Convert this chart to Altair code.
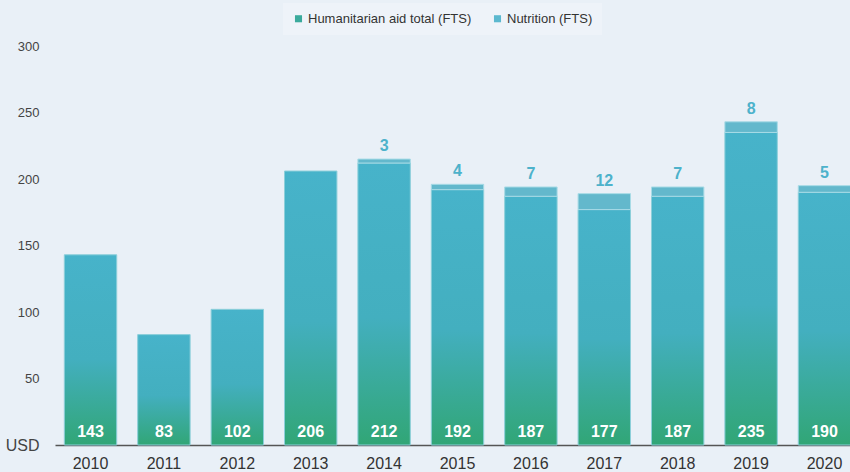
import altair as alt
import pandas as pd

years = ["2010", "2011", "2012", "2013", "2014", "2015", "2016", "2017", "2018", "2019", "2020"]
humanitarian = [143, 83, 102, 206, 212, 192, 187, 177, 187, 235, 190]
nutrition = [None, None, None, None, 3, 4, 7, 12, 7, 8, 5]
series = ["Humanitarian aid total (FTS)", "Nutrition (FTS)"]
y_ticks = [0, 50, 100, 150, 200, 250, 300]

df = pd.DataFrame({"year": years, "hum": humanitarian, "nut": nutrition})
df["top"] = df["hum"] + df["nut"]
nut_df = df.dropna(subset=["nut"]).copy()
nut_df["nut"] = nut_df["nut"].astype(int)
leg_df = pd.DataFrame({"series": series, "year": [years[0], years[0]], "v": [0, 0]})

FONT = "Liberation Sans"

x_enc = alt.X(
    "year:N",
    sort=years,
    scale=alt.Scale(range=[0, 805], paddingInner=0.286, paddingOuter=0.127),
    axis=alt.Axis(
        title=None, labelAngle=0, labelFontSize=16, labelColor="#333333",
        labelFont=FONT, ticks=False, domainColor="#555555", domainWidth=1.6,
        labelPadding=10, grid=False,
    ),
)
y_scale = alt.Scale(domain=[0, 300], nice=False)
y_axis = alt.Axis(
    title=None, values=y_ticks, grid=False, domain=False, ticks=False,
    labelFont=FONT, labelColor="#444444", labelPadding=16,
    labelExpr="datum.value == 0 ? 'USD' : datum.label",
    labelFontSize={"condition": {"test": "datum.value == 0", "value": 16}, "value": 13},
)

gradient = {
    "gradient": "linear", "x1": 0, "y1": 0, "x2": 0, "y2": 1,
    "stops": [
        {"offset": 0, "color": "#47B3CA"},
        {"offset": 0.55, "color": "#43AFBF"},
        {"offset": 1, "color": "#31A676"},
    ],
}

base = alt.Chart(df)

hum_bars = base.mark_bar(color=gradient, stroke="#8CCFDA", strokeWidth=1).encode(
    x=x_enc,
    y=alt.Y("hum:Q", scale=y_scale, axis=y_axis),
)

nut_bars = alt.Chart(nut_df).mark_bar(color="#63B8CC", stroke="#A8DBE6", strokeWidth=1).encode(
    x=alt.X("year:N", sort=years),
    y=alt.Y("hum:Q"),
    y2="top:Q",
)

hum_labels = base.mark_text(
    color="white", fontWeight="bold", fontSize=16, font=FONT, baseline="bottom", dy=-5
).encode(
    x=alt.X("year:N", sort=years),
    y=alt.datum(0),
    text=alt.Text("hum:Q"),
)

nut_labels = alt.Chart(nut_df).mark_text(
    color="#4DB2CB", fontWeight="bold", fontSize=16, font=FONT, baseline="bottom", dy=-5
).encode(
    x=alt.X("year:N", sort=years),
    y=alt.Y("top:Q"),
    text=alt.Text("nut:Q"),
)

legend_layer = alt.Chart(leg_df).mark_square(opacity=0, size=1).encode(
    x=alt.X("year:N", sort=years),
    y=alt.Y("v:Q"),
    color=alt.Color(
        "series:N",
        scale=alt.Scale(domain=series, range=["#3AAA9C", "#5BB8CF"]),
        legend=alt.Legend(
            title=None, orient="none", legendX=228, legendY=-43, direction="horizontal",
            symbolType="square", symbolSize=50, symbolOpacity=1, symbolStrokeWidth=0,
            labelFont=FONT, labelFontSize=13, labelColor="#333333", labelOffset=3,
            labelLimit=400, columnPadding=19, padding=9, fillColor="#EEF3F9",
        ),
    ),
)

chart = alt.layer(hum_bars, nut_bars, hum_labels, nut_labels, legend_layer).properties(
    width=795,
    height=399,
    background="#E9F0F7",
    autosize=alt.AutoSizeParams(type="none"),
    padding={"left": 55, "top": 46, "right": 0, "bottom": 27},
).configure_view(stroke=None)

chart.save("out.html", embed_options={"renderer": "svg", "actions": False})
